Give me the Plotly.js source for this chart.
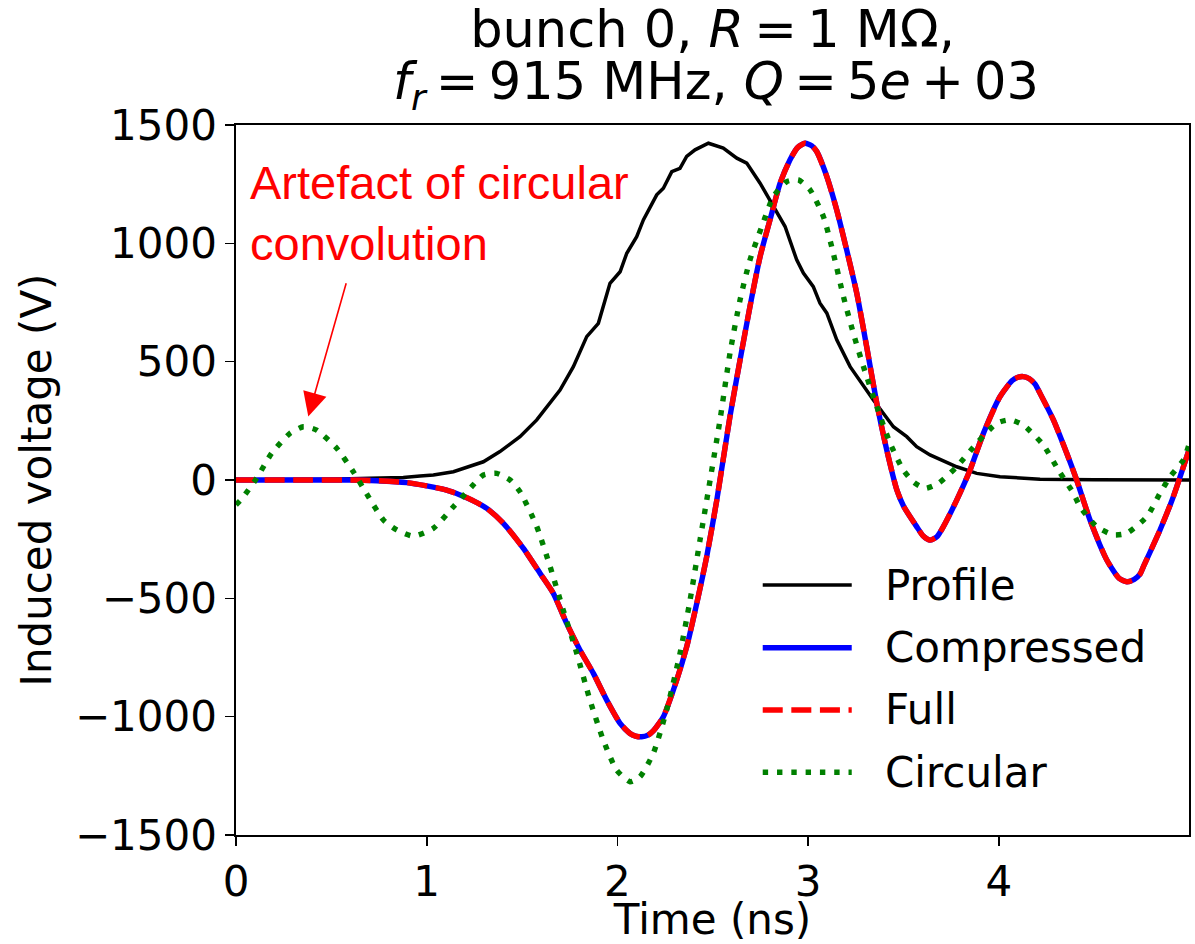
<!DOCTYPE html>
<html>
<head>
<meta charset="utf-8">
<script src="https://cdn.plot.ly/plotly-3.0.1.min.js"></script>
<style>
html, body { margin: 0; padding: 0; background: #ffffff; }
#chart { width: 1195px; height: 944px; }
</style>
</head>
<body>
<div id="chart"></div>
<script>
// ---- Data ----
const profileTime = [0, 0.3, 0.5, 0.7, 0.877, 0.965, 1.035, 1.14, 1.2, 1.297, 1.384, 1.489, 1.577, 1.699, 1.769, 1.839, 1.9, 1.961, 2.014, 2.049, 2.101, 2.136, 2.206, 2.241, 2.285, 2.328, 2.363, 2.407, 2.477, 2.555, 2.626, 2.678, 2.748, 2.809, 2.879, 2.94, 2.975, 3.027, 3.062, 3.098, 3.15, 3.22, 3.255, 3.342, 3.447, 3.517, 3.569, 3.639, 3.779, 3.884, 4.006, 4.216, 4.5, 4.997];
const profileVolt = [0, 1, 3, 7, 11, 17, 21, 35, 50, 77, 120, 183, 254, 380, 479, 606, 662, 831, 880, 958, 1028, 1099, 1205, 1233, 1303, 1317, 1367, 1395, 1423, 1402, 1360, 1339, 1254, 1170, 1071, 930, 874, 817, 747, 705, 592, 479, 437, 338, 225, 183, 141, 106, 56, 28, 14, 3, 1, 0];

const fullTime = [0, 0.3, 0.6, 0.738, 0.895, 1.0, 1.1, 1.175, 1.25, 1.315, 1.402, 1.507, 1.594, 1.664, 1.734, 1.804, 1.874, 1.944, 2.014, 2.066, 2.095, 2.127, 2.16, 2.188, 2.241, 2.311, 2.363, 2.416, 2.468, 2.521, 2.59, 2.643, 2.695, 2.748, 2.8, 2.853, 2.905, 2.945, 2.984, 3.02, 3.045, 3.098, 3.15, 3.202, 3.255, 3.307, 3.36, 3.412, 3.465, 3.5, 3.569, 3.605, 3.639, 3.675, 3.709, 3.779, 3.849, 3.919, 4.006, 4.07, 4.1, 4.128, 4.16, 4.19, 4.216, 4.286, 4.356, 4.408, 4.478, 4.566, 4.63, 4.671, 4.71, 4.74, 4.758, 4.845, 4.915, 4.997];
const fullVolt = [0, 0, 0, -3, -11, -25, -42, -63, -90, -120, -183, -289, -394, -479, -606, -719, -817, -930, -1028, -1071, -1082, -1085, -1078, -1060, -1000, -845, -705, -521, -324, -85, 268, 507, 733, 944, 1099, 1254, 1353, 1405, 1423, 1412, 1388, 1282, 1141, 972, 789, 563, 324, 127, -42, -110, -197, -238, -254, -240, -197, -85, 42, 197, 352, 420, 434, 437, 428, 405, 366, 254, 113, 0, -169, -338, -415, -430, -420, -398, -366, -211, -70, 127];

// Compressed coincides with the full result
const compressedTime = fullTime.slice();
const compressedVolt = fullVolt.slice();

const circularTime = [0, 0.03, 0.108, 0.187, 0.283, 0.353, 0.423, 0.528, 0.615, 0.694, 0.773, 0.843, 0.93, 1.035, 1.14, 1.244, 1.297, 1.367, 1.437, 1.489, 1.577, 1.647, 1.716, 1.787, 1.856, 1.926, 1.996, 2.066, 2.118, 2.188, 2.258, 2.328, 2.381, 2.433, 2.486, 2.538, 2.59, 2.643, 2.695, 2.757, 2.818, 2.888, 2.949, 3.01, 3.08, 3.132, 3.185, 3.237, 3.29, 3.36, 3.43, 3.499, 3.555, 3.613, 3.683, 3.779, 3.884, 3.989, 4.059, 4.128, 4.233, 4.312, 4.391, 4.426, 4.513, 4.601, 4.671, 4.776, 4.845, 4.898, 4.968, 4.997];
const circularVolt = [-105, -80, 7, 113, 197, 225, 211, 134, 35, -70, -169, -211, -237, -204, -113, -21, 21, 28, 0, -49, -197, -366, -550, -733, -930, -1099, -1226, -1275, -1254, -1155, -972, -733, -507, -254, 0, 254, 535, 761, 930, 1071, 1198, 1261, 1268, 1226, 1113, 958, 775, 620, 479, 310, 155, 42, -10, -35, -14, 56, 155, 240, 254, 232, 148, 42, -56, -113, -197, -232, -225, -155, -56, 14, 85, 150];

const seriesNames = ['Profile', 'Compressed', 'Full', 'Circular'];
const xTickVals = [0, 1, 2, 3, 4];
const xTickText = ['0', '1', '2', '3', '4'];
const yTickVals = [-1500, -1000, -500, 0, 500, 1000, 1500];
const yTickText = ['\u22121500', '\u22121000', '\u2212500', '0', '500', '1000', '1500'];

const TS = '\u2009';
const titleLine1 = 'bunch 0, <i>R</i>' + TS + '=' + TS + '1 M\u03A9,';
const titleLine2 = '<i>f<sub>r</sub></i>' + TS + '=' + TS + '915 MHz, <i>Q</i>' + TS + '=' + TS + '5<i>e</i>' + TS + '+' + TS + '03';
const annotationText = 'Artefact of circular<br>convolution';
// arrow tip and tail (data coordinates)
const arrowTip = [0.379, 268];
const arrowTail = [0.58, 838];

// ---- Styles ----
const FONT = 'DejaVu Sans, Liberation Sans, sans-serif';
const styles = [
  {color: '#000000', width: 3.5, dash: 'solid'},
  {color: '#0000ff', width: 5.4, dash: 'solid'},
  {color: '#ff0000', width: 5.4, dash: '20px,8.6px'},
  {color: '#008000', width: 5.4, dash: '5.4px,8.9px'}
];

const xs = [profileTime, compressedTime, fullTime, circularTime];
const ys = [profileVolt, compressedVolt, fullVolt, circularVolt];

const traces = seriesNames.map((n, i) => ({
  type: 'scatter', mode: 'lines', name: n,
  x: xs[i], y: ys[i],
  line: {color: styles[i].color, width: styles[i].width, dash: styles[i].dash, shape: i === 0 ? 'linear' : 'spline', smoothing: 0.6},
  showlegend: false, hoverinfo: 'skip'
}));

// Custom legend (long line samples like the reference)
const legendX0 = 0.5527, legendX1 = 0.6461, legendTextX = 0.6786;
const legendY = [0.3521, 0.2638, 0.1761, 0.0883];
const shapes = seriesNames.map((n, i) => ({
  type: 'line', xref: 'paper', yref: 'paper',
  x0: legendX0, x1: legendX1, y0: legendY[i], y1: legendY[i],
  line: {color: styles[i].color, width: styles[i].width, dash: styles[i].dash}
}));
const annotations = seriesNames.map((n, i) => ({
  xref: 'paper', yref: 'paper', x: legendTextX, y: legendY[i],
  xanchor: 'left', yanchor: 'middle', showarrow: false,
  text: n, font: {family: FONT, size: 42, color: '#000000'}
}));

annotations.push({
  xref: 'paper', yref: 'paper', x: 0.504, y: 1.056,
  xanchor: 'center', yanchor: 'middle', showarrow: false,
  text: titleLine2, font: {family: FONT, size: 51, color: '#000000'}
});
annotations.push({
  xref: 'paper', yref: 'paper', x: 0.0126, y: 0.876,
  xanchor: 'left', yanchor: 'middle', align: 'left', showarrow: false,
  text: annotationText, font: {family: 'Liberation Sans, Arial, sans-serif', size: 47, color: '#ff0000'}
});
annotations.push({
  xref: 'x', yref: 'y', axref: 'x', ayref: 'y',
  x: arrowTip[0], y: arrowTip[1], ax: arrowTail[0], ay: arrowTail[1],
  text: '', showarrow: true, arrowhead: 2, arrowsize: 3, arrowwidth: 1.6,
  arrowcolor: '#ff0000', standoff: 0, startstandoff: 0
});

const layout = {
  width: 1195, height: 944,
  margin: {l: 236, r: 6, t: 125, b: 109},
  paper_bgcolor: '#ffffff', plot_bgcolor: '#ffffff',
  font: {family: FONT, size: 42, color: '#000000'},
  title: {
    text: titleLine1, font: {family: FONT, size: 51, color: '#000000'},
    x: 0.5963, xanchor: 'center', xref: 'container',
    y: 1 - 29 / 944, yanchor: 'middle', yref: 'container'
  },
  showlegend: false,
  hovermode: false,
  xaxis: {
    range: [0, 4.997], tickmode: 'array', tickvals: xTickVals, ticktext: xTickText,
    ticks: 'outside', ticklen: 9, tickwidth: 1.6, tickcolor: '#000000',
    showline: true, linecolor: '#000000', linewidth: 1.6, mirror: true,
    showgrid: false, zeroline: false,
    tickfont: {family: FONT, size: 42, color: '#000000'},
    title: {text: 'Time (ns)', font: {family: FONT, size: 42, color: '#000000'}, standoff: 10}
  },
  yaxis: {
    range: [-1500, 1500], tickmode: 'array', tickvals: yTickVals, ticktext: yTickText,
    ticks: 'outside', ticklen: 9, tickwidth: 1.6, tickcolor: '#000000',
    showline: true, linecolor: '#000000', linewidth: 1.6, mirror: true,
    showgrid: false, zeroline: false,
    tickfont: {family: FONT, size: 42, color: '#000000'},
    title: {text: 'Induced voltage (V)', font: {family: FONT, size: 42, color: '#000000'}, standoff: 10}
  },
  shapes: shapes,
  annotations: annotations
};

Plotly.newPlot('chart', traces, layout, {staticPlot: true, displayModeBar: false});
</script>
</body>
</html>
